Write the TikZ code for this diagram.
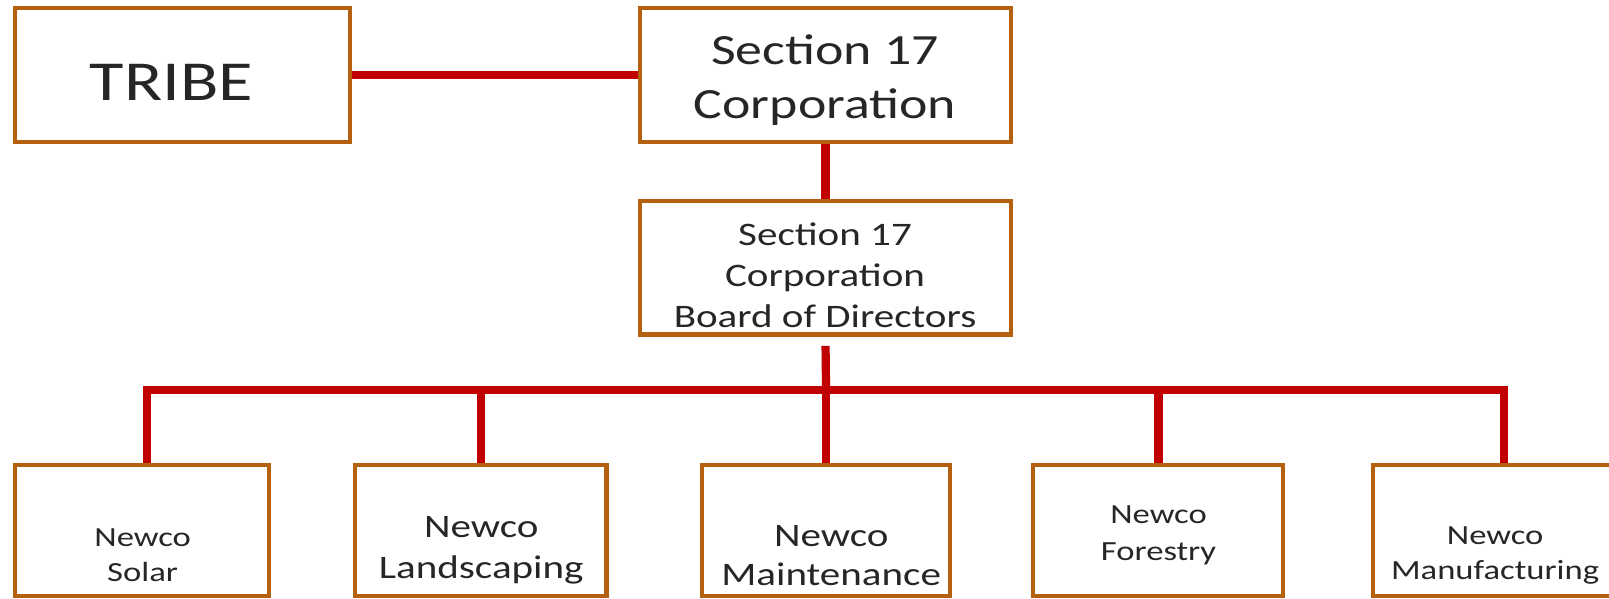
\documentclass[tikz,border=0pt]{standalone}
\usepackage{fontspec}
\setmainfont{Carlito}[FakeStretch=1.25]
\definecolor{boxc}{HTML}{B5600E}
\definecolor{linec}{HTML}{C00000}
\begin{document}
\begin{tikzpicture}[x=1pt,y=-1pt,
  box/.style={draw=boxc,line width=4pt,rectangle,inner sep=0pt},
  conn/.style={draw=linec,line width=8pt},
  txt/.style={align=center,inner sep=0pt,text=black!85}]
\useasboundingbox (0,0) rectangle (1568,582.8);
\clip (0,0) rectangle (1568,582.8);
\node[box,minimum width=326pt,minimum height=130pt] (tribe) at (178,73) {};
\node[box,minimum width=361pt,minimum height=130pt] (corp) at (804.5,73) {};
\node[box,minimum width=361pt,minimum height=130pt] (board) at (804.5,261) {};
\node[box,minimum width=247pt,minimum height=127pt] (solar) at (138.5,517) {};
\node[box,minimum width=245pt,minimum height=127pt] (land) at (468.5,517) {};
\node[box,minimum width=242pt,minimum height=127pt] (maint) at (805,517) {};
\node[box,minimum width=243pt,minimum height=127pt] (forest) at (1128.5,517) {};
\node[box,minimum width=320pt,minimum height=127pt] (manuf) at (1498,517) {};
\node[txt,font=\fontsize{55}{60}\selectfont] (ttribe) at (167,80) {TRIBE};
\node[txt,font=\fontsize{42}{53}\selectfont] (tcorp) at (804,78) {Section 17\\Corporation};
\node[txt,font=\fontsize{32}{40}\selectfont] (tboard) at (804,268) {Section 17\\Corporation\\Board of Directors};
\node[txt,font=\fontsize{27}{34}\selectfont] (tsolar) at (139,541) {Newco\\Solar};
\node[txt,font=\fontsize{32}{40}\selectfont] (tland) at (469,536) {Newco\\Landscaping};
\node[txt,font=\fontsize{32}{38}\selectfont] (tmaint) at (810,541) {Newco\\Maintenance};
\node[txt,font=\fontsize{27}{36}\selectfont] (tforest) at (1129,522) {Newco\\Forestry};
\node[txt,font=\fontsize{27}{34}\selectfont] (tmanuf) at (1457,541) {Newco\\Manufacturing};
\coordinate (b1) at (143,380);
\coordinate (b2) at (469,380);
\coordinate (b3) at (805,380);
\coordinate (b4) at (1129,380);
\coordinate (b5) at (1466,380);
\draw[conn] (tribe.east) -- (corp.west);
\draw[conn] (corp.south) -- (board.north);
\draw[conn] ([yshift=-9pt]board.south) -- (b3);
\draw[conn,line cap=rect] (b1) -- (b5);
\draw[conn] (b1) -- (b1 |- solar.north);
\draw[conn] (b2) -- (b2 |- land.north);
\draw[conn] (b3) -- (b3 |- maint.north);
\draw[conn] (b4) -- (b4 |- forest.north);
\draw[conn] (b5) -- (b5 |- manuf.north);
\end{tikzpicture}
\end{document}
